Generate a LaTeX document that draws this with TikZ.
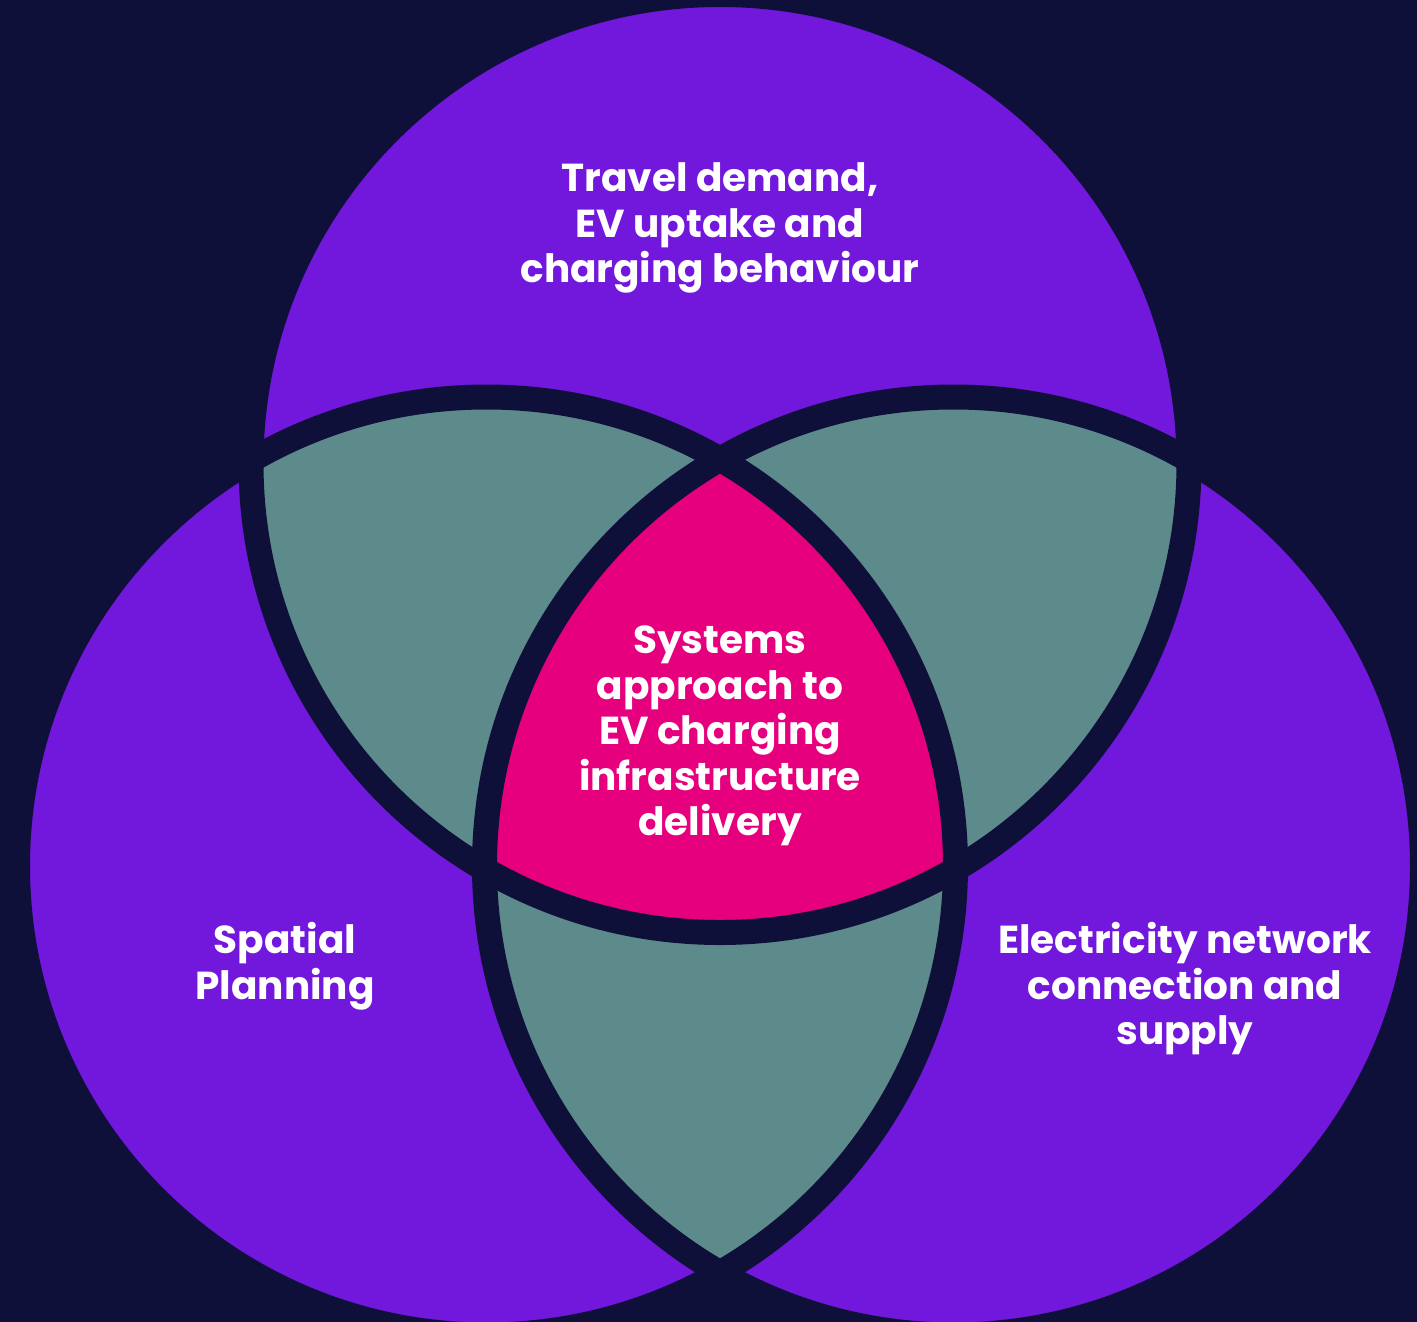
\documentclass[tikz,border=0pt]{standalone}
\usepackage{fontspec}
\setmainfont{Poppins}
\definecolor{navy}{HTML}{0E1039}
\definecolor{vennpurple}{HTML}{7217DC}
\definecolor{vennteal}{HTML}{5D8A8B}
\definecolor{vennpink}{HTML}{E6007E}
\tikzset{
  label text/.style={text=white, align=center, inner sep=0pt,
    font=\bfseries\fontsize{39}{45.5}\selectfont},
  ring/.style={draw=navy, line width=25pt},
}
\begin{document}
\begin{tikzpicture}[x=1pt,y=-1pt]
\fill[navy] (0,0) rectangle (1417,1322);
\useasboundingbox (0,0) rectangle (1417,1322);
\clip (0,0) rectangle (1417,1322);
\coordinate (T) at (720,463.5);
\coordinate (L) at (486.5,866);
\coordinate (R) at (953.5,866);
% circles
\fill[vennpurple] (T) circle[radius=469pt];
\fill[vennpurple] (L) circle[radius=469pt];
\fill[vennpurple] (R) circle[radius=469pt];
% pairwise overlaps
\begin{scope}
  \clip (T) circle[radius=469pt];
  \fill[vennteal] (L) circle[radius=469pt];
  \fill[vennteal] (R) circle[radius=469pt];
\end{scope}
\begin{scope}
  \clip (L) circle[radius=469pt];
  \fill[vennteal] (R) circle[radius=469pt];
\end{scope}
% triple overlap
\begin{scope}
  \clip (T) circle[radius=469pt];
  \clip (L) circle[radius=469pt];
  \fill[vennpink] (R) circle[radius=469pt];
\end{scope}
% outlines
\draw[ring] (T) circle[radius=469pt];
\draw[ring] (L) circle[radius=469pt];
\draw[ring] (R) circle[radius=469pt];
% labels
\node[label text] (travel) at (720,228) {Travel demand,\\EV uptake and\\charging behaviour};
\node[label text] (systems) at (720,736) {Systems\\approach to\\EV charging\\infrastructure\\delivery};
\node[label text] (spatial) at (285,966) {Spatial\\Planning};
\node[label text] (elec) at (1185,989) {Electricity network\\connection and\\supply};
\end{tikzpicture}
\end{document}
